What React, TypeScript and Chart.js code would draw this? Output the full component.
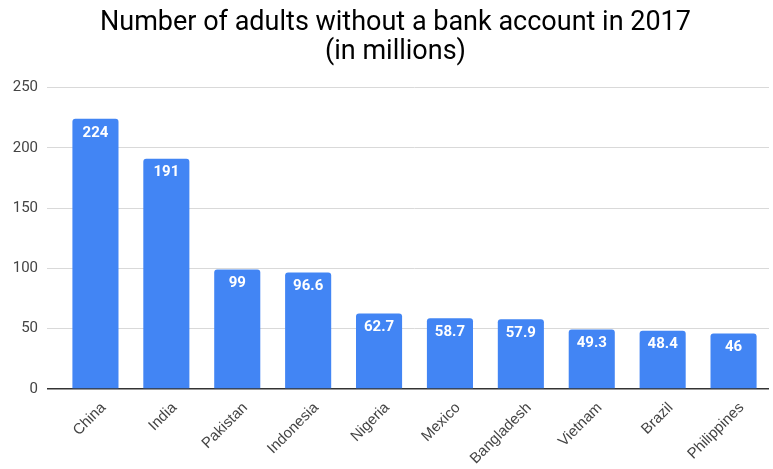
import React, { useEffect, useRef } from "react";
import { Chart, registerables } from "chart.js";

Chart.register(...registerables);

const TITLE_LINES = ["Number of adults without a bank account in 2017", "(in millions)"];
const COUNTRIES = ["China", "India", "Pakistan", "Indonesia", "Nigeria", "Mexico", "Bangladesh", "Vietnam", "Brazil", "Philippines"];
const UNBANKED_MILLIONS = [224, 191, 99, 96.6, 62.7, 58.7, 57.9, 49.3, 48.4, 46];
const Y_MIN = 0;
const Y_MAX = 250;
const Y_STEP = 50;

const BAR_COLOR = "#4285F4";
const FONT = "Roboto, 'Noto Sans', Arial, sans-serif";
const LABEL_FONT = "'Liberation Sans', Arial, Helvetica, sans-serif";

const titleLines = {
  id: "titleLines",
  afterDraw(chart: any) {
    const ctx = chart.ctx;
    ctx.save();
    ctx.fillStyle = "#000000";
    ctx.font = `27px ${FONT}`;
    ctx.textAlign = "center";
    ctx.textBaseline = "alphabetic";
    const cx = 395.5;
    TITLE_LINES.forEach((line, i) => {
      ctx.fillText(line, cx, 29.5 + i * 29);
    });
    ctx.restore();
  },
};

const valueLabels = {
  id: "valueLabels",
  afterDatasetsDraw(chart: any) {
    const ctx = chart.ctx;
    const meta = chart.getDatasetMeta(0);
    ctx.save();
    ctx.fillStyle = "#ffffff";
    ctx.font = `bold 15px ${FONT}`;
    ctx.textAlign = "center";
    ctx.textBaseline = "middle";
    meta.data.forEach((bar: any, i: number) => {
      ctx.fillText(String(UNBANKED_MILLIONS[i]), bar.x, bar.y + 14);
    });
    ctx.restore();
  },
};

export default function App() {
  const ref = useRef<HTMLCanvasElement | null>(null);
  useEffect(() => {
    document.body.style.margin = "0";
    const chart = new Chart(ref.current as HTMLCanvasElement, {
      type: "bar",
      data: {
        labels: COUNTRIES,
        datasets: [
          {
            data: UNBANKED_MILLIONS,
            backgroundColor: BAR_COLOR,
            borderRadius: { topLeft: 3, topRight: 3, bottomLeft: 0, bottomRight: 0 },
            borderSkipped: false,
            barPercentage: 0.65,
            categoryPercentage: 1,
          },
        ],
      },
      options: {
        animation: false,
        responsive: true,
        maintainAspectRatio: false,
        layout: { padding: { left: 0, right: 4, top: 87.5, bottom: 0 } },
        plugins: {
          legend: { display: false },
          tooltip: { enabled: false },
          title: { display: false },
        },
        scales: {
          x: {
            grid: { display: false },
            border: { display: false },
            afterFit: (s: any) => {
              s.height = 80;
            },
            ticks: {
              color: "#444444",
              font: { family: LABEL_FONT, size: 15 },
              maxRotation: 45,
              minRotation: 45,
              padding: 2,
              labelOffset: 8,
            },
          },
          y: {
            min: Y_MIN,
            max: Y_MAX,
            border: { display: false },
            afterFit: (s: any) => {
              s.width = 60;
            },
            grid: {
              color: (c: any) => (c.tick && c.tick.value === 0 ? "#333333" : "#d9d9d9"),
              lineWidth: (c: any) => (c.tick && c.tick.value === 0 ? 1.5 : 1),
              tickLength: 13,
              drawTicks: true,
            },
            ticks: {
              stepSize: Y_STEP,
              color: "#444444",
              font: { family: FONT, size: 15 },
              padding: 9,
            },
          },
        },
      },
      plugins: [valueLabels, titleLines],
    });
    return () => chart.destroy();
  }, []);
  return (
    <div style={{ width: 773, height: 469, position: "relative" }}>
      <canvas ref={ref} />
    </div>
  );
}
